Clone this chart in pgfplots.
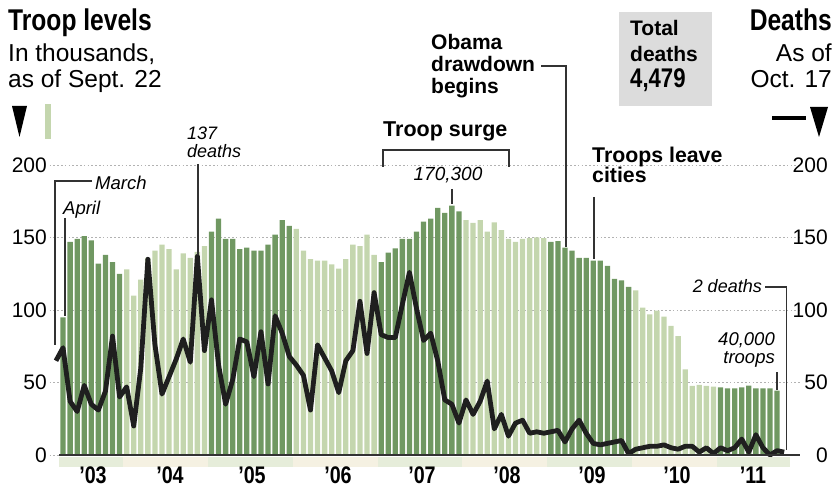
\documentclass[border=0pt]{standalone}
\usepackage{pgfplots}
\pgfplotsset{compat=1.18}
\usepackage{pgfplotstable}
\usepackage{fontspec}
\setmainfont{Liberation Sans}
\newfontfamily\heavy{Liberation Sans}[FakeStretch=0.82]
\newcommand\fs[1]{\fontsize{#1}{#1}\selectfont}
\definecolor{darkg}{RGB}{112,152,98}
\definecolor{lightg}{RGB}{196,214,174}
\definecolor{bandg}{RGB}{230,237,218}
\definecolor{bandy}{RGB}{245,241,226}
\definecolor{boxgray}{RGB}{220,220,220}
\definecolor{lead}{RGB}{50,50,50}

% Troop levels (thousands), month index m: Mar 2003 = 0
\pgfplotstableread{
m t
1 95
2 147
3 149
4 151
5 148
6 132
7 138
8 133
9 125
22 154
23 163
24 149
25 149
26 142
27 143
28 141
29 141
30 145
31 152
32 162
33 158
46 133
47 139.5
48 142.5
49 149
50 149
51 154
52 161
53 163
54 170.5
55 167
56 172
57 168
70 147
71 147.5
72 143
73 141
74 136
75 136
76 134
77 134
78 130.5
79 121.5
80 120.5
81 116
94 46.7
95 46
96 46
97 46.7
98 47.8
99 46
100 46
101 46
102 44.4
}\darkbars

\pgfplotstableread{
m t
10 128
11 110
12 121
13 136
14 141
15 145
16 142
17 128
18 139
19 136
20 140
21 144
34 156
35 141
36 135
37 134
38 134
39 131.5
40 128.5
41 135
42 145
43 144
44 152
45 138
58 162
59 160
60 162
61 154
62 160.5
63 155
64 149
65 147
66 149
67 149.5
68 150
69 149.5
82 113.5
83 101.7
84 97
85 99.5
86 95.4
87 89
88 82
89 59
90 47.6
91 48.3
92 47.6
93 47.1
}\lightbars

% Deaths per month
\pgfplotstableread{
m d
0 65
1 74
2 37
3 30
4 48
5 35
6 31
7 44
8 82
9 40
10 47
11 20
12 60
13 135
14 76
15 42
16 54
17 66
18 80
19 64
20 137
21 72
22 107
23 62
24 35
25 52
26 80
27 78
28 54
29 85
30 49
31 96
32 84
33 68
34 62
35 55
36 31
37 76
38 67
39 58
40 43
41 65
42 72
43 106
44 70
45 112
46 83
47 81
48 81
49 104
50 126
51 101
52 79
53 84
54 65
55 38
56 35
57 22
58 38
59 28
60 37
61 51
62 18
63 28
64 13
65 22
66 24
67 15
68 16
69 15
70 16
71 17
72 9
73 18
74 24
75 15
76 8
77 7
78 8
79 9
80 10
81 1
82 4
83 5
84 6
85 6
86 7
87 5
88 4
89 6
90 6
91 2
92 5
93 1
94 5
95 3
96 5
97 11
98 2
99 14
100 5
101 0
102 3
103 2
}\deaths

\begin{document}
\begin{tikzpicture}[x=1pt,y=1pt]
\useasboundingbox (0,0) rectangle (835,493);

\begin{axis}[at={(49.6pt,38pt)}, anchor=south west, scale only axis,
  width=750.1pt, height=290pt,
  xmin=-0.9, xmax=105.2, ymin=0, ymax=200, clip=false,
  axis line style={draw=none}, xtick=\empty,
  ytick={0,50,100,150,200}, major tick length=0pt,
  ymajorgrids, grid style={gray!60, line width=0.9pt, dash pattern=on 1.6pt off 2.2pt},
  yticklabel style={font=\fs{21}, anchor=east, inner sep=0pt, xshift=-2.6pt},
  /pgf/number format/assume math mode=true]
% year bands under the baseline
\fill[bandg] (axis cs:0.5,-1.2) rectangle (axis cs:9.5,-8.3);
\fill[bandy] (axis cs:9.5,-1.2) rectangle (axis cs:21.5,-8.3);
\fill[bandg] (axis cs:21.5,-1.2) rectangle (axis cs:33.5,-8.3);
\fill[bandy] (axis cs:33.5,-1.2) rectangle (axis cs:45.5,-8.3);
\fill[bandg] (axis cs:45.5,-1.2) rectangle (axis cs:57.5,-8.3);
\fill[bandy] (axis cs:57.5,-1.2) rectangle (axis cs:69.5,-8.3);
\fill[bandg] (axis cs:69.5,-1.2) rectangle (axis cs:81.5,-8.3);
\fill[bandy] (axis cs:81.5,-1.2) rectangle (axis cs:93.5,-8.3);
\fill[bandg] (axis cs:93.5,-1.2) rectangle (axis cs:103.8,-8.3);

\addplot[ybar, bar width=5.3pt, bar shift=0pt, fill=darkg, draw=none] table[x=m,y=t]{\darkbars};
\addplot[ybar, bar width=5.3pt, bar shift=0pt, fill=lightg, draw=none] table[x=m,y=t]{\lightbars};
\addplot[line width=4.8pt, color=black!88, line join=round, mark=none] table[x=m,y=d]{\deaths};
\draw[line width=1.4pt, black!80] (axis cs:0.5,0) -- (axis cs:105.2,0);
\end{axis}

\begin{axis}[at={(49.6pt,38pt)}, anchor=south west, scale only axis,
  width=750.1pt, height=290pt,
  xmin=-0.9, xmax=105.2, ymin=0, ymax=200,
  hide x axis, axis y line*=right, axis line style={draw=none},
  ytick={0,50,100,150,200}, major tick length=0pt,
  yticklabel style={font=\fs{21}, anchor=east, inner sep=0pt, xshift=28.2pt},
  /pgf/number format/assume math mode=true]
\addplot[draw=none] coordinates {(0,0)};
\end{axis}

% left header
\node[anchor=base west, inner sep=0] at (8,493-31) {\heavy\bfseries\fs{30}Troop levels};
\node[anchor=base west, inner sep=0] at (8,493-62) {\fs{24.5}In thousands,};
\node[anchor=base west, inner sep=0] at (8,493-88) {\fs{24.5}as of Sept. 22};
\fill[black] (12,493-106) -- (27,493-106) -- (19.5,493-137) -- cycle;
\fill[lightg] (45,493-104) rectangle (51,493-139);

% right header
\node[anchor=base east, inner sep=0] at (832,493-31) {\heavy\bfseries\fs{30}Deaths};
\node[anchor=base east, inner sep=0] at (832,493-62) {\fs{24.5}As of};
\node[anchor=base east, inner sep=0] at (832,493-88) {\fs{24.5}Oct. 17};
\draw[line width=4pt, black] (772,493-118) -- (806,493-118);
\fill[black] (810,493-107) -- (828,493-107) -- (819,493-137) -- cycle;

% total box
\fill[boxgray] (619,493-12) rectangle (712,493-106);
\node[anchor=base west, inner sep=0] at (630,493-36) {\bfseries\fs{21}Total};
\node[anchor=base west, inner sep=0] at (630,493-62) {\bfseries\fs{21}deaths};
\node[anchor=base west, inner sep=0] at (630,493-88) {\heavy\bfseries\fs{27}4,479};

% Obama drawdown
\node[anchor=base west, inner sep=0] at (431,493-50) {\bfseries\fs{21}Obama};
\node[anchor=base west, inner sep=0] at (431,493-72) {\bfseries\fs{21}drawdown};
\node[anchor=base west, inner sep=0] at (431,493-94) {\bfseries\fs{21}begins};
\draw[lead, line width=1.2pt] (541,493-66) -- (566,493-66) -- (566,493-247);

% Troop surge
\node[anchor=base west, inner sep=0] at (383,493-137) {\bfseries\fs{21.5}Troop surge};
\draw[lead, line width=1.2pt] (383,493-167) -- (383,493-150) -- (509,493-150) -- (509,493-167);
\node[anchor=base, inner sep=0] at (448,493-181) {\itshape\fs{19}170,300};
\draw[lead, line width=1.2pt] (452,493-189) -- (452,493-204);

% Troops leave cities
\node[anchor=base west, inner sep=0] at (592,493-162.5) {\bfseries\fs{21.3}Troops leave};
\node[anchor=base west, inner sep=0] at (592,493-183) {\bfseries\fs{21.3}cities};
\draw[lead, line width=1.2pt] (594,493-197) -- (594,493-259);

% 137 deaths
\node[anchor=base west, inner sep=0] at (187,493-140) {\itshape\fs{18}137};
\node[anchor=base west, inner sep=0] at (187,493-158) {\itshape\fs{18}deaths};
\draw[lead, line width=1.2pt] (198,493-164) -- (198,493-255);

% March / April
\draw[lead, line width=1.2pt] (92,493-181) -- (55,493-181) -- (55,493-345);
\node[anchor=base west, inner sep=0] at (95,493-190) {\itshape\fs{18.5}March};
\node[anchor=base west, inner sep=0] at (63,493-214.5) {\itshape\fs{18.5}April};
\draw[lead, line width=1.2pt] (65,493-218) -- (65,493-316);

% 2 deaths
\node[anchor=base east, inner sep=0] at (762,493-293) {\itshape\fs{18}2 deaths};
\draw[lead, line width=1.2pt] (765,493-287) -- (786.5,493-287) -- (786.5,493-450);

% 40,000 troops
\node[anchor=base east, inner sep=0] at (775,493-346) {\itshape\fs{18.5}40,000};
\node[anchor=base east, inner sep=0] at (775,493-363) {\itshape\fs{18.5}troops};
\draw[lead, line width=1.2pt] (777,493-372) -- (777,493-390);

% year labels
\node[anchor=base, inner sep=0] at (93,493-483) {\heavy\bfseries\fs{24}’03};
\node[anchor=base, inner sep=0] at (170,493-483) {\heavy\bfseries\fs{24}’04};
\node[anchor=base, inner sep=0] at (252,493-483) {\heavy\bfseries\fs{24}’05};
\node[anchor=base, inner sep=0] at (338,493-483) {\heavy\bfseries\fs{24}’06};
\node[anchor=base, inner sep=0] at (422,493-483) {\heavy\bfseries\fs{24}’07};
\node[anchor=base, inner sep=0] at (507,493-483) {\heavy\bfseries\fs{24}’08};
\node[anchor=base, inner sep=0] at (592,493-483) {\heavy\bfseries\fs{24}’09};
\node[anchor=base, inner sep=0] at (677,493-483) {\heavy\bfseries\fs{24}’10};
\node[anchor=base, inner sep=0] at (753,493-483) {\heavy\bfseries\fs{24}’11};
\end{tikzpicture}
\end{document}
